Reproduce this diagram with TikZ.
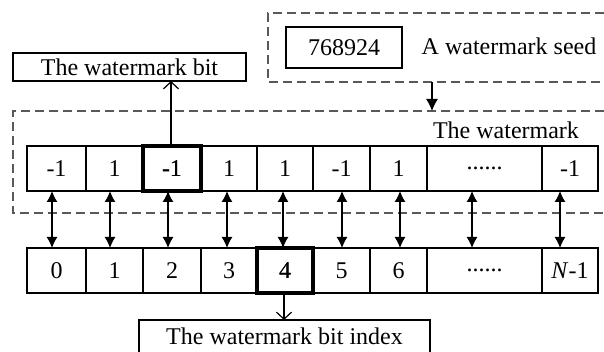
\documentclass[tikz,border=0pt]{standalone}
\usepackage{fontspec}
\setmainfont{Liberation Serif}
\usetikzlibrary{arrows.meta}
\begin{document}
\begin{tikzpicture}[x={(1pt,0pt)},y={(0pt,-1pt)},
  font=\fontsize{24}{28}\selectfont,
  cell/.style={draw,line width=1.2pt,inner sep=0pt,outer sep=0pt,minimum height=45pt},
  hicell/.style={draw,line width=3.6pt,inner sep=0pt,outer sep=0pt,minimum height=45pt},
  dbox/.style={line width=1.4pt,dash pattern=on 9pt off 5pt,gray!70!black},
  lbox/.style={draw,line width=1.2pt,inner sep=0pt,outer sep=0pt},
  openarr/.style={line width=1.2pt,-{Straight Barb[length=7pt,width=15pt,line width=1.2pt]}},
  filarr/.style={line width=1.2pt,-{Latex[length=12pt,width=12pt]}},
  dblarr/.style={line width=1.2pt,{Latex[length=11pt,width=11pt]}-{Latex[length=11pt,width=11pt]}}]
\useasboundingbox (0,0) rectangle (604,352);
% dashed containers
\draw[dbox] (604,13) -- (268,13) -- (268,82) -- (604,82);
\draw[dbox] (604,111) -- (13,111) -- (13,213) -- (604,213);
% seed
\node[lbox,minimum width=116pt,minimum height=41pt] (seed) at (344,47.5) {768924};
\node[anchor=center] (seedlbl) at (509,46) {A watermark seed};
\node (wmlbl) at (506,130) {The watermark};
% top row
\foreach \l/\r/\t [count=\i from 0] in {27/86/-1,86/143/1,143/201/-1,201/257/1,257/313/1,313/370/-1,370/427/1,427/542/{......},542/598/-1}{
  \node[cell,minimum width={(\r-\l)*1pt}] (t\i) at ({(\l+\r)/2},168.5) {\t};
}
\foreach \l/\r/\t [count=\i from 0] in {27/86/0,86/143/1,143/201/2,201/257/3,257/313/4,313/370/5,370/427/6,427/542/{......},542/598/{\textit{N}-1}}{
  \node[cell,minimum width={(\r-\l)*1pt}] (b\i) at ({(\l+\r)/2},270.5) {\t};
}
\node[hicell,minimum width=58pt] (th) at (172,168.5) {-1};
\node[hicell,minimum width=56pt] (bh) at (285,270.5) {4};
% double arrows
\foreach \i/\xx in {0/52,1/110,2/168,3/227,4/283,5/342,6/400,7/472,8/560}{
  \draw[dblarr] (t\i.south -| \xx,0) -- (b\i.north -| \xx,0);
}
% seed arrow
\coordinate (sa) at (432,82);
\coordinate (sb) at (432,111);
\draw[filarr] (sa) -- (sb);
% label boxes
\node[lbox,minimum width=233pt,minimum height=28pt] (bit) at (129.5,67) {The watermark bit};
\node[draw=none,inner sep=0pt,outer sep=0pt,minimum width=291pt,minimum height=32pt] (idx) at (284.5,336) {The watermark bit index};
\draw[line width=1.2pt] (idx.south west) -- (idx.north west) -- (idx.north east) -- (idx.south east);
\draw[openarr] (th.north -| 171,0) -- (bit.south -| 171,0);
\draw[openarr] (bh.south -| 284,0) -- (idx.north -| 284,0);
\end{tikzpicture}
\end{document}
